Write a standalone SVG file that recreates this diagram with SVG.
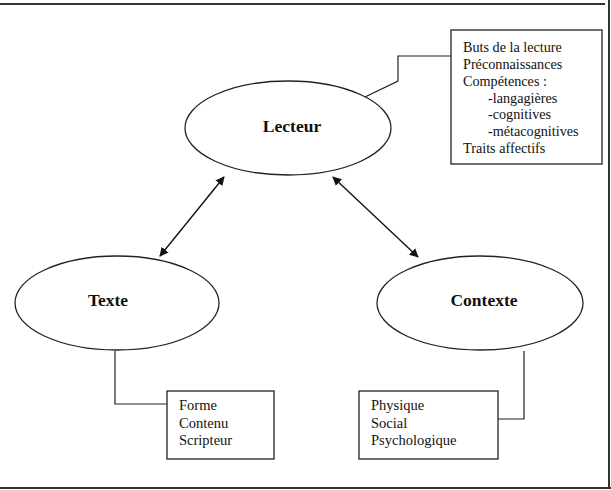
<svg xmlns="http://www.w3.org/2000/svg" width="611" height="490" viewBox="0 0 611 490">
<style>
.frame{stroke:#333;stroke-width:2;fill:none}
.ell{fill:#fff;stroke:#222;stroke-width:1.3}
.box{fill:#fff;stroke:#222;stroke-width:1.3}
.link{fill:none;stroke:#222;stroke-width:1.2}
.arrow{fill:none;stroke:#111;stroke-width:1.4;marker-start:url(#ah);marker-end:url(#ah)}
.title{font-family:"Liberation Serif","Times New Roman",serif;font-weight:bold;font-size:17.5px;fill:#111;text-anchor:middle}
.item{font-family:"Liberation Serif","Times New Roman",serif;font-size:14.5px;fill:#111}
</style>
<defs>
<marker id="ah" viewBox="0 0 10 10" refX="9" refY="5" markerWidth="9" markerHeight="9" orient="auto-start-reverse" markerUnits="userSpaceOnUse">
<path d="M0,0 L10,5 L0,10 z" fill="#111"/>
</marker>
</defs>
<rect width="611" height="490" fill="#fff"/>
<g id="frame">
<line class="frame" x1="0" y1="4" x2="605" y2="4"/>
<line class="frame" x1="609" y1="0" x2="609" y2="488"/>
<line class="frame" x1="0" y1="488" x2="611" y2="488"/>
</g>
<g id="connectors">
<line class="arrow" x1="224" y1="177" x2="160" y2="256"/>
<line class="arrow" x1="333" y1="177" x2="418" y2="257"/>
<polyline class="link" points="365,97 398,81 398,56 451,56"/>
<polyline class="link" points="115,351 115,404 167,404"/>
<polyline class="link" points="524,351 524,419 498,419"/>
</g>
<g id="lecteur">
<ellipse class="ell" cx="288" cy="128" rx="103" ry="47"/>
<text class="title" x="292" y="132">Lecteur</text>
</g>
<g id="texte">
<ellipse class="ell" cx="117" cy="303" rx="102" ry="47"/>
<text class="title" x="108" y="306">Texte</text>
</g>
<g id="contexte">
<ellipse class="ell" cx="480" cy="303" rx="103" ry="47"/>
<text class="title" x="484" y="306">Contexte</text>
</g>
<g id="lecteur-details">
<rect class="box" x="451" y="30" width="151" height="134"/>
<text class="item" x="463" y="52" style="font-size:14.2px">Buts de la lecture</text>
<text class="item" x="463" y="68.5" style="font-size:14.2px">Préconnaissances</text>
<text class="item" x="463" y="85.5" style="font-size:14.2px">Compétences :</text>
<text class="item" x="488" y="102.5" style="font-size:14.2px">-langagières</text>
<text class="item" x="488" y="119" style="font-size:14.2px">-cognitives</text>
<text class="item" x="488" y="136" style="font-size:14.2px">-métacognitives</text>
<text class="item" x="463" y="153" style="font-size:14.2px">Traits affectifs</text>
</g>
<g id="texte-details">
<rect class="box" x="167" y="391" width="107" height="68"/>
<text class="item" x="179" y="410">Forme</text>
<text class="item" x="179" y="427.5">Contenu</text>
<text class="item" x="179" y="445">Scripteur</text>
</g>
<g id="contexte-details">
<rect class="box" x="359" y="391" width="139" height="68"/>
<text class="item" x="371" y="410">Physique</text>
<text class="item" x="371" y="427.5">Social</text>
<text class="item" x="371" y="445">Psychologique</text>
</g>
</svg>
